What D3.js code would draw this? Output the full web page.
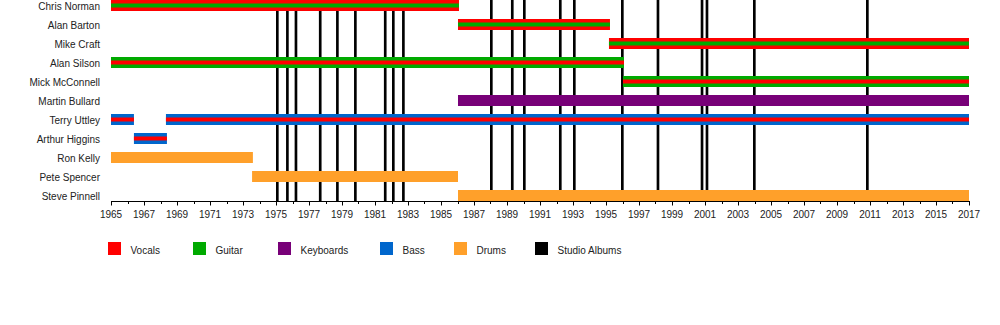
<!DOCTYPE html>
<html>
<head>
<meta charset="utf-8">
<script src="https://cdn.jsdelivr.net/npm/d3@7"></script>
<style>
  html, body { margin: 0; padding: 0; background: #fff; }
  svg { display: block; }
  text { font-family: "Liberation Sans", Arial, sans-serif; font-size: 10px; fill: #222; }
</style>
</head>
<body>
<svg id="chart" width="1000" height="325"></svg>
<script>
// ---------------- DATA ----------------
const members = ["Chris Norman", "Alan Barton", "Mike Craft", "Alan Silson", "Mick McConnell",
  "Martin Bullard", "Terry Uttley", "Arthur Higgins", "Ron Kelly", "Pete Spencer", "Steve Pinnell"];

const roles = ["Vocals", "Guitar", "Keyboards", "Bass", "Drums", "Studio Albums"];
const roleColors = ["#ff0000", "#00aa00", "#780078", "#0066cc", "#ffa02a", "#000000"];

// member, start, end, main role, secondary role (inner stripe)
const stintMember = ["Chris Norman", "Alan Barton", "Mike Craft", "Alan Silson", "Mick McConnell",
  "Martin Bullard", "Terry Uttley", "Terry Uttley", "Arthur Higgins", "Ron Kelly", "Pete Spencer", "Steve Pinnell"];
const stintStart = [1965, 1986.03, 1995.18, 1965, 1996.03, 1986.03, 1965, 1968.33, 1966.39, 1965, 1973.55, 1986.03];
const stintEnd   = [1986.09, 1995.24, 2017, 1996.09, 2017, 2017, 1966.39, 2017, 1968.39, 1973.6, 1986.03, 2017];
const stintRole  = ["Vocals", "Vocals", "Vocals", "Guitar", "Guitar", "Keyboards", "Bass", "Bass", "Bass", "Drums", "Drums", "Drums"];
const stintInner = ["Guitar", "Guitar", "Guitar", "Vocals", "Vocals", null, "Vocals", "Vocals", "Vocals", null, null, null];

const albumYears = [1975.08, 1975.69, 1976.21, 1977.68, 1978.72, 1979.81, 1981.62, 1982.11, 1982.72,
  1988.05, 1989.32, 1990.05, 1992.23, 1993.08, 1995.99, 1998.15, 2000.82, 2001.12, 2003.99, 2010.84];

const yearDomain = [1965, 2017];
const tickYears = d3.range(1965, 2018, 2);
const minorTickYears = d3.range(1965, 2018, 1);

// ---------------- LAYOUT ----------------
const svg = d3.select("#chart");
const x = d3.scaleLinear().domain(yearDomain).range([111, 969]);
const y = d3.scalePoint().domain(members).range([5.5, 195.5]);
const axisY = 201;
const barH = 11, innerH = 4;
const color = d3.scaleOrdinal().domain(roles).range(roleColors);

// album lines (behind bars)
svg.append("g").selectAll("line").data(albumYears).join("line")
  .attr("x1", d => x(d)).attr("x2", d => x(d))
  .attr("y1", 0).attr("y2", axisY)
  .attr("stroke", color("Studio Albums")).attr("stroke-width", 2.67);

// bars
const stints = stintMember.map((m, i) => ({ m, s: stintStart[i], e: stintEnd[i], r: stintRole[i], inner: stintInner[i] }));
const bars = svg.append("g");
bars.selectAll("rect.outer").data(stints).join("rect").attr("class", "outer")
  .attr("x", d => x(d.s)).attr("width", d => x(d.e) - x(d.s))
  .attr("y", d => y(d.m) - barH / 2).attr("height", barH)
  .attr("fill", d => color(d.r));
bars.selectAll("rect.inner").data(stints.filter(d => d.inner)).join("rect").attr("class", "inner")
  .attr("x", d => x(d.s)).attr("width", d => x(d.e) - x(d.s))
  .attr("y", d => y(d.m) - innerH / 2).attr("height", innerH)
  .attr("fill", d => color(d.inner));

// member labels
svg.append("g").selectAll("text").data(members).join("text")
  .attr("x", 100).attr("y", d => y(d) + 4.3)
  .attr("text-anchor", "end").text(d => d);

// axis
const ax = svg.append("g");
ax.append("line").attr("x1", x(yearDomain[0])).attr("x2", x(yearDomain[1]))
  .attr("y1", axisY + 0.5).attr("y2", axisY + 0.5).attr("stroke", "#000").attr("stroke-width", 1);
ax.selectAll("line.minor").data(minorTickYears).join("line").attr("class", "minor")
  .attr("x1", d => Math.round(x(d)) + 0.5).attr("x2", d => Math.round(x(d)) + 0.5)
  .attr("y1", axisY).attr("y2", d => (d - 1965) % 2 === 0 ? axisY + 4.5 : axisY + 3)
  .attr("stroke", "#000").attr("stroke-width", 1);
ax.selectAll("text").data(tickYears).join("text")
  .attr("x", d => x(d)).attr("y", 218).attr("text-anchor", "middle").text(d => d);

// legend
const legendX = [108, 193, 278, 380, 454, 535];
const lg = svg.append("g").selectAll("g").data(roles).join("g")
  .attr("transform", (d, i) => `translate(${legendX[i]},242)`);
lg.append("rect").attr("width", 13).attr("height", 13).attr("fill", d => color(d));
lg.append("text").attr("x", 22.5).attr("y", 11.5).text(d => d);
</script>
</body>
</html>
